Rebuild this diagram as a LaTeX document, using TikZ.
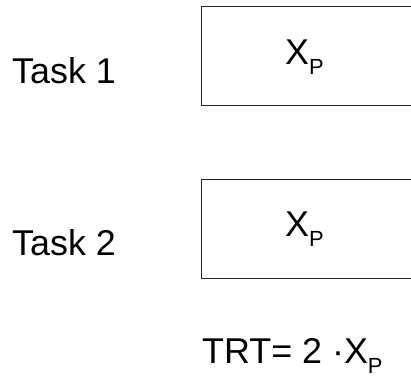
\documentclass[tikz,border=0pt]{standalone}
\usepackage{fontspec}
\setmainfont{Liberation Sans}
\newcommand\lowsub[1]{\raisebox{-10bp}{\fontsize{22}{26}\selectfont #1}}
\begin{document}
\begin{tikzpicture}[x=1bp,y=-1bp,
  taskbox/.style={draw=black!85,line width=1.3bp,rectangle,anchor=north west,
    minimum width=240bp,minimum height=99bp,inner sep=0pt},
  lbl/.style={anchor=base west,inner sep=0pt,font=\fontsize{36}{43}\selectfont}]
  \useasboundingbox (0,0) rectangle (411,376);
  \clip (0,0) rectangle (411,376);
  % task rows
  \node[lbl] (t1) at (12,83) {Task 1};
  \node[taskbox] (b1) at (201,6) {};
  \node[lbl] (x1) at (285,64) {X\lowsub{P}};
  \node[lbl] (t2) at (12,255) {Task 2};
  \node[taskbox] (b2) at (201,179) {};
  \node[lbl] (x2) at (285,236) {X\lowsub{P}};
  % total response time
  \node[lbl] (trt) at (202,363) {TRT= 2 ·X\lowsub{P}};
\end{tikzpicture}
\end{document}
